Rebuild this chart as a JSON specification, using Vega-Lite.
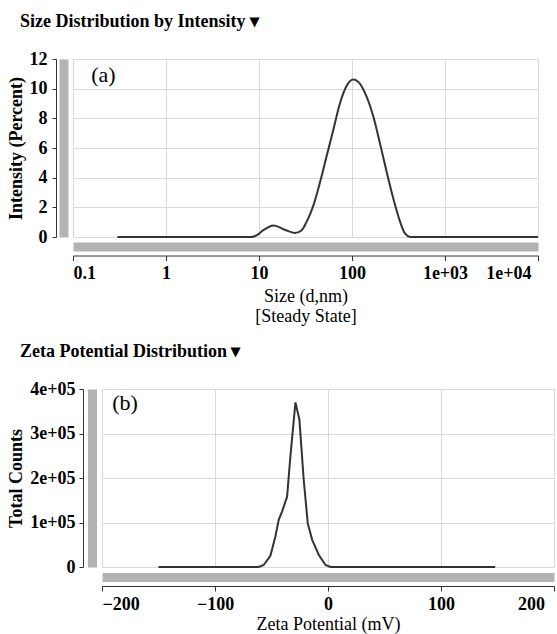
{
  "$schema": "https://vega.github.io/schema/vega-lite/v6.json",
  "background": "white",
  "padding": {"left": 6, "top": 12, "right": 0, "bottom": 0},
  "bounds": "flush",
  "spacing": 152,
  "config": {
    "font": "Liberation Serif",
    "view": {"stroke": "#d6d6d6", "strokeWidth": 1},
    "axis": {
      "labelFont": "Liberation Serif",
      "titleFont": "Liberation Serif",
      "labelColor": "#000",
      "titleColor": "#000",
      "domainColor": "#333",
      "tickColor": "#333",
      "gridColor": "#dadada"
    }
  },
  "vconcat": [
    {
      "width": 465,
      "height": 178,
      "title": {"text": "Size Distribution by Intensity ▾", "anchor": "start", "frame": "group", "dx": -53, "offset": 19, "fontSize": 18, "fontWeight": "bold", "font": "Liberation Serif", "color": "#000"},
      "layer": [
        {
          "data": {"values": [
            {"size": 0.3, "intensity": 0},
            {"size": 8.3, "intensity": 0},
            {"size": 9.6, "intensity": 0.14},
            {"size": 11.0, "intensity": 0.44},
            {"size": 14.4, "intensity": 0.78},
            {"size": 18.9, "intensity": 0.49},
            {"size": 24.3, "intensity": 0.27},
            {"size": 28.6, "intensity": 0.44},
            {"size": 32.4, "intensity": 1.0},
            {"size": 38.3, "intensity": 2.1},
            {"size": 45.2, "intensity": 3.67},
            {"size": 53.3, "intensity": 5.44},
            {"size": 62.9, "intensity": 7.22},
            {"size": 74.1, "intensity": 9.0},
            {"size": 87.6, "intensity": 10.2},
            {"size": 103, "intensity": 10.62},
            {"size": 122, "intensity": 10.33},
            {"size": 144, "intensity": 9.44},
            {"size": 170, "intensity": 8.1},
            {"size": 200, "intensity": 6.3},
            {"size": 237, "intensity": 4.33},
            {"size": 279, "intensity": 2.56},
            {"size": 330, "intensity": 1.0},
            {"size": 373, "intensity": 0.22},
            {"size": 423, "intensity": 0},
            {"size": 10000, "intensity": 0}
          ]},
          "mark": {"type": "line", "color": "#333", "strokeWidth": 2, "interpolate": "monotone"},
          "encoding": {
            "x": {"field": "size", "type": "quantitative", "scale": {"type": "log", "domain": [0.1, 10000]},
              "axis": {"orient": "bottom", "offset": 9.5, "domainColor": "#b3b3b3", "domainWidth": 9, "labels": false, "ticks": false, "title": null, "grid": true, "values": [0.1, 1, 10, 100, 1000, 10000]}},
            "y": {"field": "intensity", "type": "quantitative", "scale": {"domain": [0, 12]},
              "axis": {"orient": "left", "offset": 9.5, "domainColor": "#b3b3b3", "domainWidth": 9, "labels": false, "ticks": false, "title": null, "grid": true, "values": [0, 2, 4, 6, 8, 10, 12]}}
          }
        },
        {
          "data": {"values": [{"label": "(a)"}]},
          "mark": {"type": "text", "align": "left", "baseline": "middle", "fontSize": 22, "font": "Liberation Serif", "color": "#000"},
          "encoding": {
            "text": {"field": "label"},
            "x": {"datum": 0.157, "type": "quantitative",
              "axis": {"orient": "bottom", "offset": 18.5, "grid": false, "values": [0.1, 1, 10, 100, 1000, 10000],
                "labelExpr": "datum.value >= 1000 ? '1e+0' + format(log(datum.value)/LN10, '.0f') : (datum.value < 1 ? '0.1' : format(datum.value, 'd'))",
                "labelFontSize": 18, "labelFontWeight": "bold", "tickSize": 5, "labelPadding": 4,
                "labelOffset": {"condition": {"test": "datum.value >= 10000", "value": -7}, "value": 0},
                "title": ["Size (d,nm)", "[Steady State]"], "titleFontSize": 18, "titleFontWeight": "normal", "titlePadding": 5, "titleLineHeight": 20}},
            "y": {"datum": 10.9, "type": "quantitative",
              "axis": {"orient": "left", "offset": 17, "grid": false, "values": [0, 2, 4, 6, 8, 10, 12],
                "labelFontSize": 18, "labelFontWeight": "bold", "tickSize": 4, "labelPadding": 5,
                "title": "Intensity (Percent)", "titleFontSize": 18, "titleFontWeight": "bold", "titleX": -31}}
          }
        }
      ],
      "resolve": {"axis": {"x": "independent", "y": "independent"}}
    },
    {
      "bounds": "flush",
      "spacing": 28,
      "hconcat": [
        {
          "width": 1,
          "height": 1,
          "view": {"stroke": null},
          "data": {"values": []},
          "mark": "point"
        },
        {
          "width": 452,
          "height": 178,
          "title": {"text": "Zeta Potential Distribution ▾", "anchor": "start", "frame": "group", "dx": -82, "offset": 19, "fontSize": 18, "fontWeight": "bold", "font": "Liberation Serif", "color": "#000"},
          "layer": [
            {
              "data": {"values": [
                {"zeta": -150, "counts": 0},
                {"zeta": -61.4, "counts": 0},
                {"zeta": -56.9, "counts": 4500},
                {"zeta": -51, "counts": 25000},
                {"zeta": -46.6, "counts": 68000},
                {"zeta": -43.6, "counts": 106000},
                {"zeta": -40.6, "counts": 125000},
                {"zeta": -36.2, "counts": 158000},
                {"zeta": -33.3, "counts": 248000},
                {"zeta": -28.8, "counts": 370000},
                {"zeta": -25.3, "counts": 331000},
                {"zeta": -21.5, "counts": 196000},
                {"zeta": -17.9, "counts": 98000},
                {"zeta": -14.0, "counts": 61000},
                {"zeta": -8.1, "counts": 27000},
                {"zeta": -2.2, "counts": 4500},
                {"zeta": 2.2, "counts": 0},
                {"zeta": 148, "counts": 0}
              ]},
              "mark": {"type": "line", "color": "#333", "strokeWidth": 2},
              "encoding": {
                "x": {"field": "zeta", "type": "quantitative", "scale": {"domain": [-200, 200]},
                  "axis": {"orient": "bottom", "offset": 10, "domainColor": "#b3b3b3", "domainWidth": 9, "labels": false, "ticks": false, "title": null, "grid": true, "values": [-200, -100, 0, 100, 200]}},
                "y": {"field": "counts", "type": "quantitative", "scale": {"domain": [0, 400000]},
                  "axis": {"orient": "left", "offset": 10, "domainColor": "#b3b3b3", "domainWidth": 9, "labels": false, "ticks": false, "title": null, "grid": true, "values": [0, 100000, 200000, 300000, 400000]}}
              }
            },
            {
              "data": {"values": [{"label": "(b)"}]},
              "mark": {"type": "text", "align": "left", "baseline": "middle", "fontSize": 22, "font": "Liberation Serif", "color": "#000"},
              "encoding": {
                "text": {"field": "label"},
                "x": {"datum": -191, "type": "quantitative",
                  "axis": {"orient": "bottom", "offset": 19, "grid": false, "values": [-200, -100, 0, 100, 200],
                    "labelFontSize": 18, "labelFontWeight": "bold", "tickSize": 5, "labelPadding": 4,
                    "labelOffset": {"condition": {"test": "datum.value >= 200", "value": -9.5}, "value": 0},
                    "title": "Zeta Potential (mV)", "titleFontSize": 18, "titleFontWeight": "normal", "titlePadding": 2}},
                "y": {"datum": 369000, "type": "quantitative",
                  "axis": {"orient": "left", "offset": 19, "grid": false, "values": [0, 100000, 200000, 300000, 400000],
                    "labelExpr": "datum.value === 0 ? '0' : format(datum.value / 100000, 'd') + 'e+05'",
                    "labelFontSize": 18, "labelFontWeight": "bold", "tickSize": 4, "labelPadding": 4,
                    "title": "Total Counts", "titleFontSize": 18, "titleFontWeight": "bold", "titleX": -58}}
              }
            }
          ],
          "resolve": {"axis": {"x": "independent", "y": "independent"}}
        }
      ]
    }
  ]
}
